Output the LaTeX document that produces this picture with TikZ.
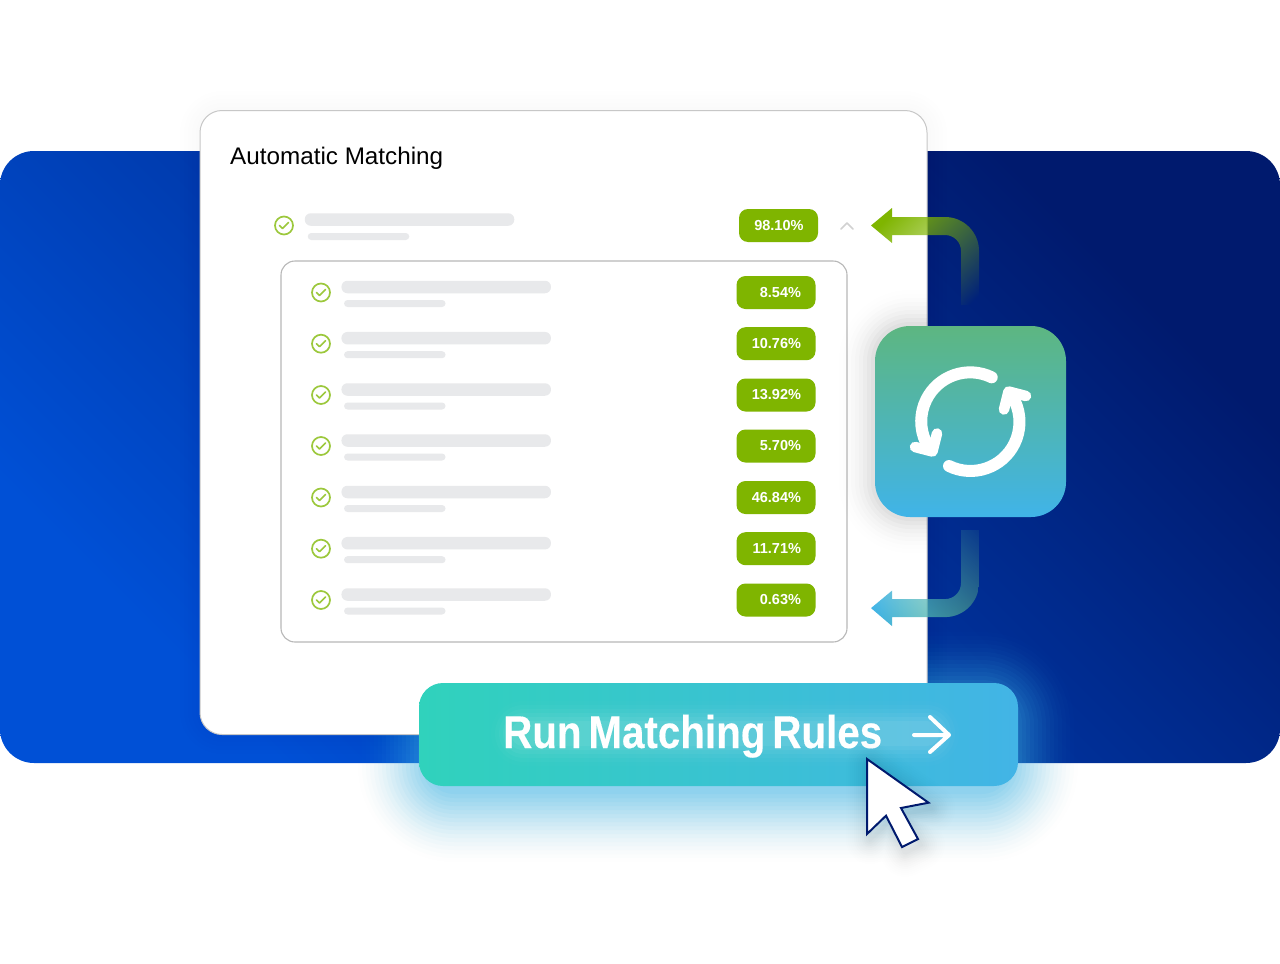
\documentclass[tikz,border=0pt]{standalone}
\usepackage{fontspec}
\usepackage{graphicx}
\setmainfont{Liberation Sans}
\newfontfamily\btnfont[BoldFeatures={FakeBold=0.25}]{Liberation Sans}
\usetikzlibrary{calc}
\usetikzlibrary{fadings}

\tikzfading[name=pipefade,left color=transparent!0,right color=transparent!100]

% soft halo: x1,y1,x2,y2,radius,color,spread,opacity
\newcommand{\softglow}[8]{%
	\foreach \g in {#7,...,1} {
		\pgfmathtruncatemacro{\gkeep}{mod(\g,4)}
		\ifnum\gkeep=0
		\pgfmathsetlengthmacro{\gr}{#5pt+\g pt}
		\pgfmathsetmacro{\gop}{#8*(2*(1-(\g-1)/#7)+.1)}
		\fill[#6,fill opacity=\gop,rounded corners=\gr] ({#1-\g},{#2-\g}) rectangle ({#3+\g},{#4+\g});
		\fi
	}
}

\begin{document}
\begin{tikzpicture}
			[x=1pt,y=-1pt,line cap=round,
			%Styles
			panel/.style={rounded corners=34pt,inner sep=0pt,minimum width=1280pt,minimum height=612pt},
			card/.style={draw=cardline,line width=1pt,fill=white,rounded corners=22pt,inner sep=0pt,minimum width=727pt,minimum height=624pt},
			innerbox/.style={draw=boxline,line width=1.1pt,rounded corners=14pt,inner sep=0pt,minimum width=566pt,minimum height=381pt},
			longbar/.style={fill=barcolor,rounded corners=6pt,inner sep=0pt,minimum width=209.5pt,minimum height=12.5pt},
			shortbar/.style={fill=barcolor,rounded corners=3.5pt,inner sep=0pt,minimum width=101.5pt,minimum height=7pt},
			badge/.style={fill=badgecolor,text=white,rounded corners=9pt,inner sep=0pt,minimum width=79pt,minimum height=33pt,text width=50pt,align=right,font=\fontsize{14.5}{16}\selectfont\bfseries},
			checkdot/.style={circle,draw=checkcolor,line width=1.7pt,inner sep=0pt,minimum size=18pt},
			checkmark/.style={draw=checkcolor,line width=1.5pt,line join=round},
			iconline/.style={draw=white,line width=12pt,line cap=round,line join=round},
			iconhead/.style={draw=white,fill=white,line width=10.5pt,line cap=round,line join=round},
			]

			%Colors
			\colorlet{cardline}{black!22}
			\colorlet{boxline}{black!28}
			\definecolor{barcolor}{HTML}{E8E9EB}
			\definecolor{badgecolor}{HTML}{7FB500}
			\definecolor{checkcolor}{HTML}{9CC83C}
			\definecolor{panelleft}{HTML}{0050D6}
			\definecolor{panelmid}{HTML}{003399}
			\definecolor{panelright}{HTML}{001A6E}
			\definecolor{tiletop}{HTML}{5DB681}
			\definecolor{tilebottom}{HTML}{40B4E8}
			\definecolor{btnleft}{HTML}{30D2BC}
			\definecolor{btnright}{HTML}{42B4E6}
			\definecolor{glowblue}{HTML}{45BDEE}
			\definecolor{cursorline}{HTML}{001A6E}

			\useasboundingbox (0,0) rectangle (1280,964);
			\fill[white] (0,0) rectangle (1280,964);

			%The graphic
			\node[panel,shade,left color=panelleft,middle color=panelmid,right color=panelright,shading angle=135] (backdrop) at (640,457) {};

			%halo of the button, behind the card
			\softglow{430}{700}{1006}{790}{24}{glowblue}{72}{.042}

			\softglow{200}{111}{927}{734}{22}{black}{28}{.003}
			\node[card] (card) at (563.5,422.5) {};
			\node[anchor=base west,inner sep=0pt,font=\fontsize{24}{28}\selectfont] (title) at (230,164) {\resizebox{213pt}{\height}{Automatic Matching}};

			%first row
			\node[checkdot] (check0) at (284,225.5) {};
			\draw[checkmark] (check0.center) ++(-4.5,0) -- ++(3,3) -- ++(6,-6);
			\node[longbar] (long0) at (409.5,219.5) {};
			\node[shortbar] (short0) at (358.5,236.5) {};
			\node[badge] (badge0) at (778.5,225.5) {98.10\%};
			\draw[draw=black!18,line width=1.5pt,line join=round] (841,229) -- (847,223) -- (853,229);

			%the rows in the box
			\node[innerbox] (box) at (564,451.5) {};
			\foreach \i/\ypos/\pct in {1/292.5/8.54,2/343.7/10.76,3/395/13.92,4/446/5.70,5/497.5/46.84,6/548.7/11.71,7/600/0.63} {
				\node[checkdot] (check\i) at (321,\ypos) {};
				\draw[checkmark] (check\i.center) ++(-4.5,0) -- ++(3,3) -- ++(6,-6);
				\node[longbar] (long\i) at (446.2,\ypos-5.5) {};
				\node[shortbar] (short\i) at (394.8,\ypos+11) {};
				\node[badge] (badge\i) at (776,\ypos) {\pct\%};
			}

			%arrows from the tile
			\coordinate (tipA) at (871,225.5);
			\coordinate (tipB) at (871,608);
			\fill[badgecolor,path fading=pipefade,fit fading=false,fading transform={shift={(925,265)},rotate=-45,scale=2.4}]
				(tipA) -- ++(21,-17.5) -- ++(0,9) -- ++(53,0) arc[start angle=90,end angle=0,radius=34pt]
				-- ++(0,54) -- ++(-18,0) -- ++(0,-54) arc[start angle=0,end angle=90,radius=16pt]
				-- ++(-53,0) -- ++(0,8) -- cycle;
			\shade[left color=tilebottom,right color=tiletop,path fading=pipefade,fit fading=false,fading transform={shift={(925,559)},rotate=45,scale=2.93}]
				(tipB) -- ++(21,-17.5) -- ++(0,8.5) -- ++(53,0) arc[start angle=270,end angle=360,radius=16pt]
				-- ++(0,-53) -- ++(18,0) -- ++(0,53) arc[start angle=0,end angle=-90,radius=34pt]
				-- ++(-53,0) -- ++(0,9) -- cycle;

			%the tile, its shadow only shows on the card
			\begin{scope}
				\clip (800,290) rectangle (927,560);
				\softglow{875}{326}{1066}{517}{35}{black}{36}{.013}
			\end{scope}
			\node[shade,top color=tiletop,bottom color=tilebottom,rounded corners=35pt,inner sep=0pt,minimum size=191pt] (tile) at (970.5,421.5) {};
			\draw[iconline] (991.7,377.3) arc[start angle=64,end angle=205,radius=49pt];
			\draw[iconhead] (915,447) -- (932.5,451.5) -- (937,433.5);
			\draw[iconline] (949,466) arc[start angle=244,end angle=385,radius=49pt];
			\draw[iconhead] (1026,396) -- (1008.5,391.5) -- (1004,409.5);

			%button
			\node[shade,left color=btnleft,right color=btnright,rounded corners=24pt,inner sep=0pt,minimum width=599pt,minimum height=103pt] (button) at (718.5,734.5) {};
			\softglow{515}{725}{935}{742}{8}{white}{28}{.03}
			\node[anchor=base west,inner sep=0pt,text=white,font=\btnfont\fontsize{46}{50}\selectfont\bfseries] (label) at (503,748) {\resizebox{379pt}{\height}{Run\hspace{.17em}Matching\hspace{.17em}Rules}};
			\coordinate (shaftA) at (914,735);
			\coordinate (shaftB) at (949,735);
			\draw[white,line width=4pt,line join=round] (shaftA) -- (shaftB) (930,717) -- (shaftB) -- (930,752);

			%cursor
			\coordinate (cursor) at (867,759);
			\foreach \w in {4,8,...,56} {
				\pgfmathsetmacro{\wop}{.014*(1-\w/60)}
				\draw[black,draw opacity=\wop,line width=\w pt,line join=round] ([shift={(3,6)}]cursor) -- ++(61.5,43.7) -- ++(-27.5,5.3) -- ++(17,31) -- ++(-16,8) -- ++(-16,-31.3) -- ++(-19,18.3) -- cycle;
			}
			\draw[cursorline,fill=white,line width=2pt,line join=miter] (cursor) -- ++(61.5,43.7) -- ++(-27.5,5.3) -- ++(17,31) -- ++(-16,8) -- ++(-16,-31.3) -- ++(-19,18.3) -- cycle;
		\end{tikzpicture}
\end{document}
